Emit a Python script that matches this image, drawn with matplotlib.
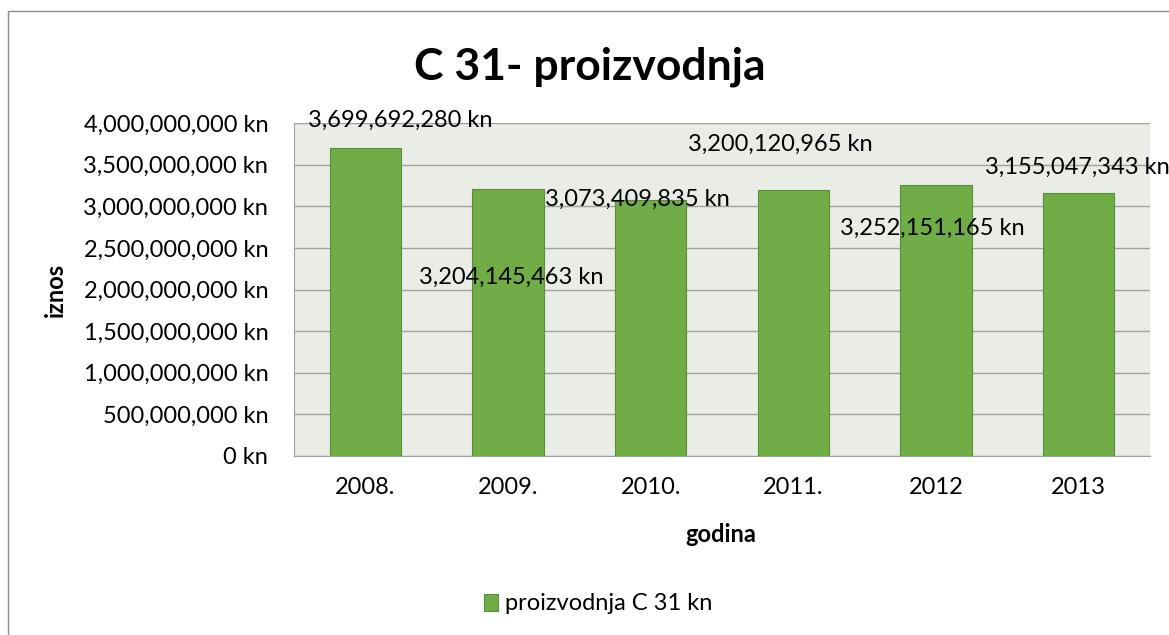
import matplotlib.pyplot as plt
from matplotlib.patches import Rectangle
from matplotlib.ticker import FuncFormatter

# --- DATA ---
years = ['2008.', '2009.', '2010.', '2011.', '2012', '2013']
values = [3699692280, 3204145463, 3073409835, 3200120965, 3252151165, 3155047343]
y_ticks = [0, 500000000, 1000000000, 1500000000, 2000000000,
           2500000000, 3000000000, 3500000000, 4000000000]

# manual label offsets (pixels), labels were dragged around in the original
label_offsets = [(35, 28), (3, -88), (-13, 1), (-13, 45), (-4, -43), (-1, 26)]

plt.rcParams['font.family'] = ['Lato', 'DejaVu Sans']

fig = plt.figure(figsize=(11.69, 6.35), dpi=100)
ax = fig.add_axes([294/1169, 1 - 456/635, (1150 - 294)/1169, (456 - 123)/635])

# outer chart border
fig.patches.append(Rectangle((8/1169, -0.2), 1.2, 1.2 - 11/635,
                             transform=fig.transFigure, fill=False,
                             edgecolor='#8c8c8c', linewidth=1.0))

x = list(range(len(years)))
bars = ax.bar(x, values, width=0.5, color='#70AD47', edgecolor='#5B8C3A',
              linewidth=0.8, zorder=3, label='proizvodnja C 31 kn')

ax.set_facecolor('#E9EDE6')
ax.set_xlim(-0.5, len(years) - 0.5)
ax.set_ylim(0, 4000000000)
ax.set_yticks(y_ticks)
ax.yaxis.set_major_formatter(FuncFormatter(lambda v, p: f"{int(v):,} kn"))
ax.set_xticks(x)
ax.set_xticklabels(years)
ax.grid(axis='y', color='#A0A0A0', linewidth=1.0, zorder=0)
ax.tick_params(axis='y', length=0, pad=18.5, labelsize=17)
ax.tick_params(axis='x', length=0, pad=15, labelsize=17)

for side in ['top', 'right']:
    ax.spines[side].set_visible(False)
ax.spines['left'].set_color('#A0A0A0')
ax.spines['bottom'].set_color('#A0A0A0')

for i, v in enumerate(values):
    dx, dy = label_offsets[i]
    ax.annotate(f"{v:,} kn", (x[i], v), xytext=(dx, dy), textcoords='offset pixels',
                ha='center', va='center', fontsize=17, color='black',
                annotation_clip=False, zorder=5)

fig.text(590/1169, 1 - 67/635, 'C 31- proizvodnja', ha='center', va='center',
         fontsize=32, fontweight='bold')
fig.text(55/1169, 1 - 290/635, 'iznos', ha='center', va='center', rotation=90,
         fontsize=17, fontweight='bold')
fig.text(721/1169, 1 - 535/635, 'godina', ha='center', va='center',
         fontsize=17, fontweight='bold')

fig.legend(handles=[bars], loc='center', bbox_to_anchor=(598/1169, 1 - 604/635),
           frameon=False, fontsize=17, handlelength=0.6, handleheight=0.7,
           handletextpad=0.3)

fig.savefig('out.png', dpi=100)
